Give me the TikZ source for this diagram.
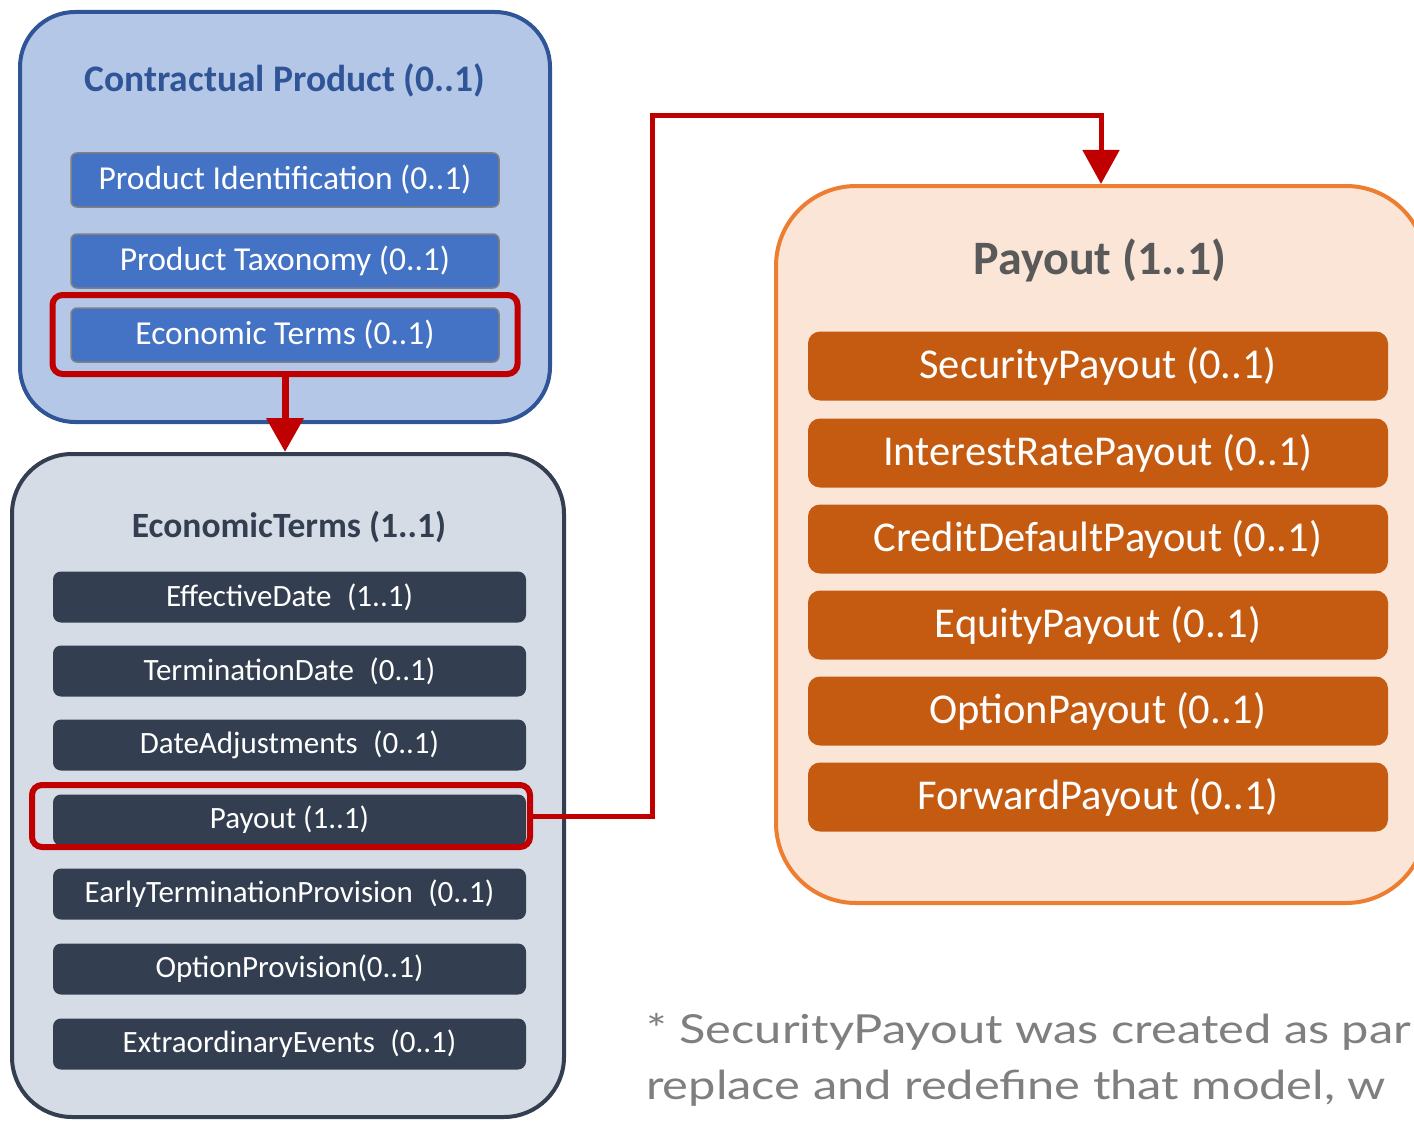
\documentclass[tikz,border=0pt]{standalone}
\usepackage{fontspec}
\setmainfont{Carlito}
\newfontfamily\notefont[FakeStretch=1.22]{Lato}
\usetikzlibrary{arrows.meta,positioning}
\definecolor{prodBlue}{RGB}{47,85,151}
\definecolor{prodFill}{RGB}{180,199,231}
\definecolor{itemBlue}{RGB}{68,114,196}
\definecolor{termNavy}{RGB}{51,63,80}
\definecolor{termFill}{RGB}{214,220,229}
\definecolor{payOrange}{RGB}{237,125,49}
\definecolor{payFill}{RGB}{251,229,214}
\definecolor{itemOrange}{RGB}{197,90,17}
\definecolor{markRed}{RGB}{192,0,0}
\definecolor{noteGray}{RGB}{127,127,127}
\begin{document}
\begin{tikzpicture}[x=1pt, y=-1pt,
  group/.style={rectangle, rounded corners=#1, line width=4pt, inner sep=0pt},
  prodItem/.style={rectangle, rounded corners=6pt, draw=gray, line width=1.5pt,
              fill=itemBlue, text=white, minimum width=428pt, minimum height=54pt,
              font=\fontsize{33.5}{40}\selectfont},
  termItem/.style={rectangle, rounded corners=8pt, fill=termNavy, text=white,
              minimum width=473pt, minimum height=51pt,
              font=\fontsize{31}{37}\selectfont},
  payItem/.style={rectangle, rounded corners=12pt, fill=itemOrange, text=white,
              minimum width=580pt, minimum height=69pt,
              font=\fontsize{42.5}{50}\selectfont},
  hilite/.style={rectangle, rounded corners=10pt, draw=markRed, line width=6pt},
  link/.style={-{Triangle[width=36pt,length=34pt]}, draw=markRed, line width=5pt}
]
  \useasboundingbox (0,0) rectangle (1414,1121);
  \clip (0,0) rectangle (1414,1121);

  % contractual product
  \node[group=55pt, draw=prodBlue, fill=prodFill, minimum width=530pt,
        minimum height=410pt] (prodGroup) at (285,217) {};
  \node[text=prodBlue, font=\fontsize{37.5}{44}\selectfont\bfseries] (prodTitle)
    at (285,80) {Contractual Product (0..1)};
  \node[prodItem] (prodId)  at (285,180) {Product Identification (0..1)};
  \node[prodItem] (prodTax) at (285,261) {Product Taxonomy (0..1)};
  \node[prodItem] (prodEco) at (285,335) {Economic Terms (0..1)};
  \node[hilite, minimum width=465pt, minimum height=79pt] (ecoMark) at (285,334.5) {};

  % economic terms
  \node[group=60pt, draw=termNavy, fill=termFill, minimum width=552pt,
        minimum height=663pt] (termGroup) at (288,785.5) {};
  \node[text=termNavy, font=\fontsize{35.5}{42}\selectfont\bfseries] (termTitle)
    at (289,527) {EconomicTerms (1..1)};
  \foreach \y/\n/\t in {597/effDate/EffectiveDate\enspace(1..1),
                        671/termDate/TerminationDate\enspace(0..1),
                        745/dateAdj/DateAdjustments\enspace(0..1),
                        820/payout/Payout (1..1),
                        894/earlyTerm/EarlyTerminationProvision\enspace(0..1),
                        969/optProv/OptionProvision(0..1),
                        1044/extraEv/ExtraordinaryEvents\enspace(0..1)}
    \node[termItem] (\n) at (289.5,\y) {\t};
  \node[hilite, minimum width=498pt, minimum height=62pt] (payMark) at (281,816) {};

  % payout
  \node[group=80pt, draw=payOrange, fill=payFill, minimum width=650pt,
        minimum height=717pt] (payGroup) at (1101,544.5) {};
  \node[text=black!65, font=\fontsize{48}{56}\selectfont\bfseries] (payTitle)
    at (1100,260) {Payout (1..1)};
  \foreach \y/\n/\t in {366/secPay/SecurityPayout (0..1),
                        453/ratePay/InterestRatePayout (0..1),
                        539/creditPay/CreditDefaultPayout (0..1),
                        625/equityPay/EquityPayout (0..1),
                        711/optionPay/OptionPayout (0..1),
                        797/forwardPay/ForwardPayout (0..1)}
    \node[payItem] (\n) at (1098,\y) {\t};

  % links
  \coordinate (bend) at (652,116);
  \draw[link, line width=7pt] (ecoMark.south) -- (ecoMark.south |- termGroup.north);
  \draw[link] (payMark.east) -| (bend) -| (payGroup.north);

  % note
  \node[anchor=base west, inner sep=0pt, text=noteGray,
        font=\notefont\fontsize{40}{48}\selectfont] (note1) at (646,1043)
    {* SecurityPayout was created as par};
  \node[anchor=base west, inner sep=0pt, text=noteGray,
        font=\notefont\fontsize{40}{48}\selectfont] (note2) at (646,1099)
    {replace and redefine that model, w};
\end{tikzpicture}
\end{document}
